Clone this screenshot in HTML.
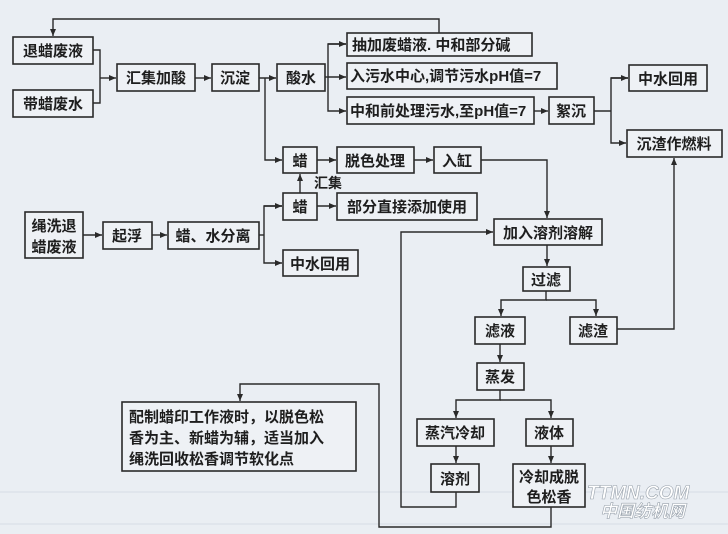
<!DOCTYPE html>
<html><head><meta charset="utf-8"><style>
html,body{margin:0;padding:0;background:#eaeef3;}
svg{display:block;}
text{font-family:"Liberation Sans","Noto Sans CJK SC",sans-serif;font-size:15px;font-weight:bold;fill:#1e1e1e;}
.b{fill:#eef1f5;stroke:#2a2a2a;stroke-width:1.6;}
.l{fill:none;stroke:#2a2a2a;stroke-width:1.4;}
</style></head><body>
<svg width="728" height="534" viewBox="0 0 728 534" xmlns="http://www.w3.org/2000/svg">
<defs><marker id="a" markerWidth="8" markerHeight="8" refX="7" refY="4" orient="auto" markerUnits="userSpaceOnUse"><path d="M0,1 L7,4 L0,7 z" fill="#2a2a2a"/></marker></defs>
<rect width="728" height="534" fill="#eaeef3"/>
<line x1="0" y1="492" x2="728" y2="492" stroke="#d6dce4" stroke-width="1"/>
<line x1="0" y1="524" x2="728" y2="524" stroke="#d6dce4" stroke-width="1"/>

<rect class="b" x="13" y="37" width="80" height="27"/><text x="53" y="56" text-anchor="middle">退蜡废液</text>
<rect class="b" x="13" y="90" width="80" height="27"/><text x="53" y="109" text-anchor="middle">带蜡废水</text>
<rect class="b" x="117" y="64" width="78" height="27"/><text x="156" y="83" text-anchor="middle">汇集加酸</text>
<rect class="b" x="212" y="64" width="47" height="27"/><text x="235" y="83" text-anchor="middle">沉淀</text>
<rect class="b" x="277" y="64" width="48" height="27"/><text x="301" y="83" text-anchor="middle">酸水</text>
<rect class="b" x="347" y="33" width="185" height="23"/><text x="352" y="50">抽加废蜡液. 中和部分碱</text>
<rect class="b" x="347" y="63" width="210" height="26"/><text x="350" y="81">入污水中心,调节污水pH值=7</text>
<rect class="b" x="347" y="97" width="187" height="27"/><text x="350" y="116">中和前处理污水,至pH值=7</text>
<rect class="b" x="549" y="97" width="45" height="27"/><text x="571" y="116" text-anchor="middle">絮沉</text>
<rect class="b" x="629" y="65" width="78" height="26"/><text x="668" y="84" text-anchor="middle">中水回用</text>
<rect class="b" x="627" y="130" width="95" height="27"/><text x="674" y="149" text-anchor="middle">沉渣作燃料</text>
<rect class="b" x="283" y="147" width="34" height="26"/><text x="300" y="166" text-anchor="middle">蜡</text>
<rect class="b" x="337" y="147" width="77" height="26"/><text x="375" y="166" text-anchor="middle">脱色处理</text>
<rect class="b" x="434" y="147" width="47" height="26"/><text x="457" y="166" text-anchor="middle">入缸</text>
<text x="314" y="188" style="font-size:14px">汇集</text>
<rect class="b" x="283" y="193" width="34" height="27"/><text x="300" y="212" text-anchor="middle">蜡</text>
<rect class="b" x="337" y="193" width="140" height="27"/><text x="407" y="212" text-anchor="middle">部分直接添加使用</text>
<rect class="b" x="25" y="212" width="58" height="46"/><text x="54" y="231" text-anchor="middle">绳洗退</text><text x="54" y="252" text-anchor="middle">蜡废液</text>
<rect class="b" x="103" y="222" width="49" height="27"/><text x="127" y="241" text-anchor="middle">起浮</text>
<rect class="b" x="168" y="222" width="91" height="27"/><text x="213" y="241" text-anchor="middle">蜡、水分离</text>
<rect class="b" x="283" y="250" width="75" height="26"/><text x="320" y="269" text-anchor="middle">中水回用</text>
<rect class="b" x="494" y="219" width="108" height="26"/><text x="548" y="238" text-anchor="middle">加入溶剂溶解</text>
<rect class="b" x="523" y="267" width="47" height="24"/><text x="546" y="285" text-anchor="middle">过滤</text>
<rect class="b" x="475" y="317" width="50" height="27"/><text x="500" y="336" text-anchor="middle">滤液</text>
<rect class="b" x="570" y="317" width="47" height="27"/><text x="593" y="336" text-anchor="middle">滤渣</text>
<rect class="b" x="477" y="363" width="47" height="27"/><text x="500" y="382" text-anchor="middle">蒸发</text>
<rect class="b" x="417" y="419" width="77" height="27"/><text x="455" y="438" text-anchor="middle">蒸汽冷却</text>
<rect class="b" x="526" y="419" width="47" height="27"/><text x="549" y="438" text-anchor="middle">液体</text>
<rect class="b" x="431" y="464" width="48" height="28"/><text x="455" y="484" text-anchor="middle">溶剂</text>
<rect class="b" x="513" y="464" width="72" height="43"/><text x="549" y="482" text-anchor="middle">冷却成脱</text><text x="549" y="502" text-anchor="middle">色松香</text>
<rect class="b" x="122" y="402" width="234" height="69"/>
<text x="129" y="422">配制蜡印工作液时，以脱色松</text>
<text x="129" y="443">香为主、新蜡为辅，适当加入</text>
<text x="129" y="464">绳洗回收松香调节软化点</text>

<polyline class="l" points="439,33 439,19 53,19 53,36" marker-end="url(#a)"/>
<polyline class="l" points="93,50 100,50 100,103 93,103"/>
<line class="l" x1="100" y1="78" x2="116" y2="78" marker-end="url(#a)"/>
<line class="l" x1="195" y1="78" x2="211" y2="78" marker-end="url(#a)"/>
<line class="l" x1="259" y1="78" x2="276" y2="78" marker-end="url(#a)"/>
<polyline class="l" points="265,78 265,160 282,160" marker-end="url(#a)"/>
<line class="l" x1="325" y1="77" x2="328" y2="77"/>
<polyline class="l" points="346,44 328,44 328,111 346,111" marker-end="url(#a)"/>
<line class="l" x1="328" y1="77" x2="346" y2="77" marker-end="url(#a)"/>
<line class="l" x1="328" y1="44" x2="346" y2="44" marker-end="url(#a)"/>
<line class="l" x1="534" y1="111" x2="548" y2="111" marker-end="url(#a)"/>
<line class="l" x1="594" y1="111" x2="611" y2="111"/>
<polyline class="l" points="628,78 611,78 611,143 626,143" marker-end="url(#a)"/>
<line class="l" x1="611" y1="78" x2="628" y2="78" marker-end="url(#a)"/>
<line class="l" x1="317" y1="160" x2="336" y2="160" marker-end="url(#a)"/>
<line class="l" x1="414" y1="160" x2="433" y2="160" marker-end="url(#a)"/>
<polyline class="l" points="481,160 547,160 547,218" marker-end="url(#a)"/>
<line class="l" x1="300" y1="193" x2="300" y2="174" marker-end="url(#a)"/>
<line class="l" x1="317" y1="206" x2="336" y2="206" marker-end="url(#a)"/>
<line class="l" x1="83" y1="235" x2="102" y2="235" marker-end="url(#a)"/>
<line class="l" x1="152" y1="235" x2="167" y2="235" marker-end="url(#a)"/>
<polyline class="l" points="259,235 264,235"/>
<polyline class="l" points="282,206 264,206 264,263 282,263" marker-end="url(#a)"/>
<line class="l" x1="264" y1="206" x2="282" y2="206" marker-end="url(#a)"/>
<line class="l" x1="547" y1="245" x2="547" y2="266" marker-end="url(#a)"/>
<polyline class="l" points="546,291 546,300 501,300 501,316" marker-end="url(#a)"/>
<polyline class="l" points="546,300 596,300 596,316" marker-end="url(#a)"/>
<line class="l" x1="500" y1="344" x2="500" y2="362" marker-end="url(#a)"/>
<polyline class="l" points="617,329 674,329 674,158" marker-end="url(#a)"/>
<polyline class="l" points="500,390 500,400 456,400 456,418" marker-end="url(#a)"/>
<polyline class="l" points="500,400 551,400 551,418" marker-end="url(#a)"/>
<line class="l" x1="456" y1="446" x2="456" y2="463" marker-end="url(#a)"/>
<line class="l" x1="551" y1="446" x2="551" y2="463" marker-end="url(#a)"/>
<polyline class="l" points="456,492 456,507 401,507 401,232 493,232" marker-end="url(#a)"/>
<polyline class="l" points="551,507 551,527 379,527 379,384 240,384 240,401" marker-end="url(#a)"/>

<text x="587" y="499" style="font-size:19px;font-style:italic;font-weight:bold;fill:#fff;stroke:#9aa3ad;stroke-width:0.6">TTMN.COM</text>
<text x="600" y="517" style="font-size:17px;font-style:italic;font-weight:bold;fill:#fff;stroke:#9aa3ad;stroke-width:0.6">中国纺机网</text>
</svg>
</body></html>
